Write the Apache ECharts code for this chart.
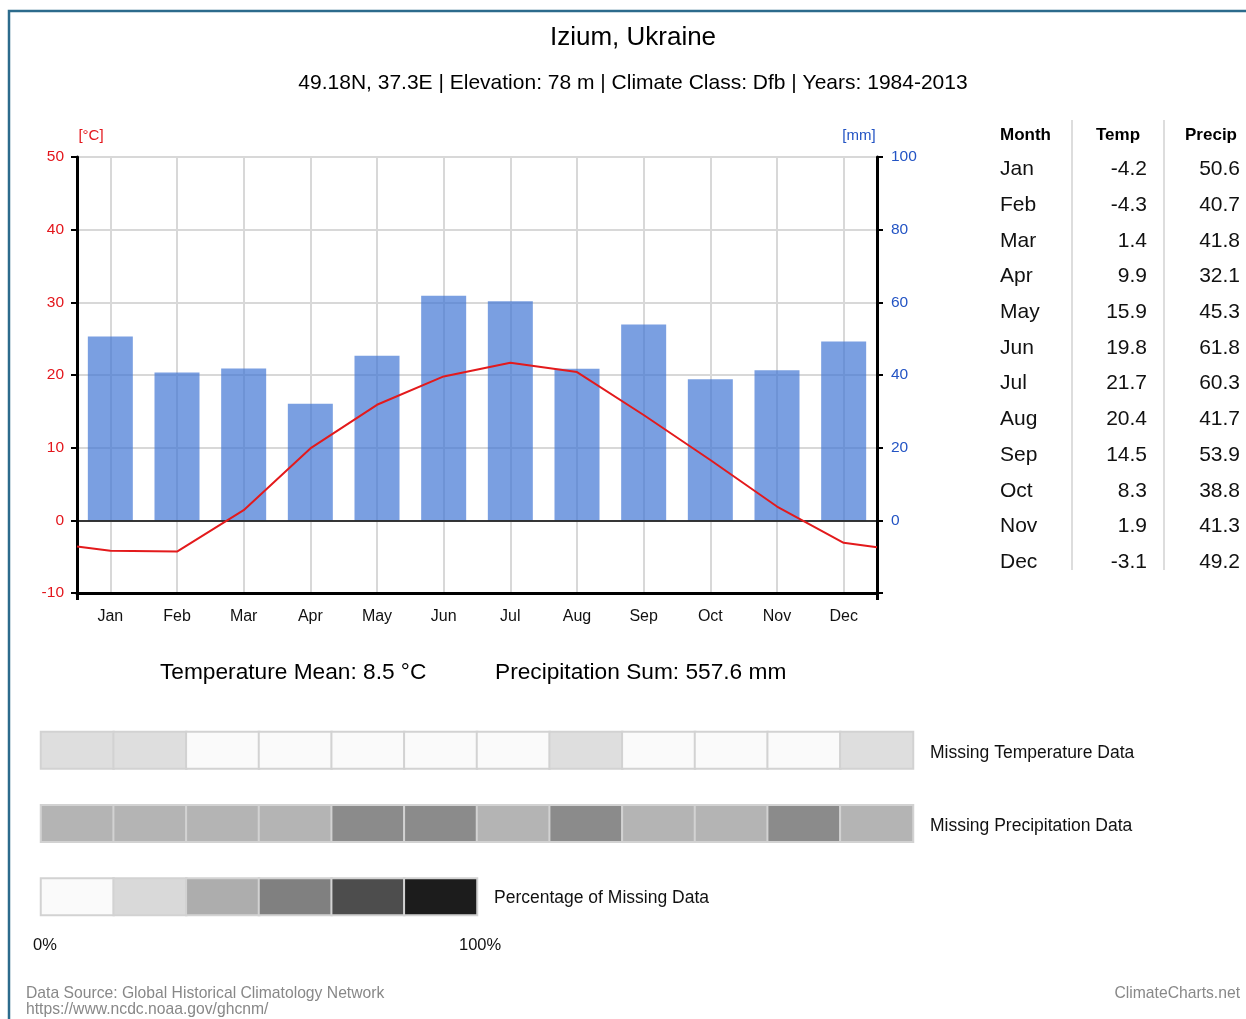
<!DOCTYPE html>
<html>
<head>
<meta charset="utf-8">
<script src="https://cdn.jsdelivr.net/npm/echarts@6/dist/echarts.min.js"></script>
<style>
  html, body { margin: 0; padding: 0; background: #fff; }
  #chart { width: 1246px; height: 1019px; }
</style>
</head>
<body>
<div id="chart"></div>
<script>
// climate data, Izium 1984-2013
const months = ['Jan', 'Feb', 'Mar', 'Apr', 'May', 'Jun', 'Jul', 'Aug', 'Sep', 'Oct', 'Nov', 'Dec']
const temp = [-4.2, -4.3, 1.4, 9.9, 15.9, 19.8, 21.7, 20.4, 14.5, 8.3, 1.9, -3.1]
const precip = [50.6, 40.7, 41.8, 32.1, 45.3, 61.8, 60.3, 41.7, 53.9, 38.8, 41.3, 49.2]
// where the line meets the left / right plot edge
const tempEdges = [-3.6, -3.7]
// missing data in percent (estimated from the grey shades)
const missingTemp = [17, 17, 0, 0, 0, 0, 0, 17, 0, 0, 0, 17]
const missingPrecip = [37, 37, 37, 37, 55, 55, 37, 55, 37, 37, 55, 37]
const missingScale = [0, 20, 40, 60, 80, 100]
const tempTicks = { min: -10, max: 50, step: 10 }
const precipTicks = { min: -20, max: 100, step: 20 }

const FONT = '"Liberation Sans", Arial, sans-serif'
const RED = '#e3161c'
const BLUE = '#2354c4'

let chart = echarts.init(document.getElementById('chart'))

// line points: edges + month centres on a hidden 0..12 value axis
let linePoints = [[0, tempEdges[0]]]
temp.forEach((t, i) => linePoints.push([i + 0.5, t]))
linePoints.push([12, tempEdges[1]])

// heatmap rows: 0 = temperature, 2 = precipitation, 4 = scale
let heat = []
missingTemp.forEach((v, i) => heat.push([i, 0, v]))
missingPrecip.forEach((v, i) => heat.push([i, 2, v]))
missingScale.forEach((v, i) => heat.push([i, 4, v]))

// table on the right
let graphics = []
const rowTop = 169.5
const rowStep = 35.7
graphics.push(
  { type: 'text', x: 1000, y: 135, style: { text: 'Month', font: 'bold 17px ' + FONT, fill: '#000', align: 'left', verticalAlign: 'middle' } },
  { type: 'text', x: 1118, y: 135, style: { text: 'Temp', font: 'bold 17px ' + FONT, fill: '#000', align: 'center', verticalAlign: 'middle' } },
  { type: 'text', x: 1211, y: 135, style: { text: 'Precip', font: 'bold 17px ' + FONT, fill: '#000', align: 'center', verticalAlign: 'middle' } },
  { type: 'line', shape: { x1: 1072, y1: 120, x2: 1072, y2: 570 }, style: { stroke: '#ddd', lineWidth: 2 } },
  { type: 'line', shape: { x1: 1164, y1: 120, x2: 1164, y2: 570 }, style: { stroke: '#ddd', lineWidth: 2 } }
)
months.forEach((m, i) => {
  let y = rowTop + i * rowStep
  graphics.push(
    { type: 'text', x: 1000, y: y, style: { text: m, font: '21px ' + FONT, fill: '#111', align: 'left', verticalAlign: 'middle' } },
    { type: 'text', x: 1147, y: y, style: { text: temp[i].toFixed(1), font: '21px ' + FONT, fill: '#111', align: 'right', verticalAlign: 'middle' } },
    { type: 'text', x: 1240, y: y, style: { text: precip[i].toFixed(1), font: '21px ' + FONT, fill: '#111', align: 'right', verticalAlign: 'middle' } }
  )
})

graphics.push(
  // frame
  { type: 'rect', shape: { x: 9, y: 11, width: 1300, height: 1100 }, style: { fill: 'none', stroke: '#2c6b8c', lineWidth: 2.5 }, z: 100 },
  // titles
  { type: 'text', x: 633, y: 38, style: { text: 'Izium, Ukraine', font: '26px ' + FONT, fill: '#000', align: 'center', verticalAlign: 'middle' } },
  { type: 'text', x: 633, y: 83, style: { text: '49.18N, 37.3E | Elevation: 78 m | Climate Class: Dfb | Years: 1984-2013', font: '21px ' + FONT, fill: '#000', align: 'center', verticalAlign: 'middle' } },
  // axis units
  { type: 'text', x: 91, y: 136, style: { text: '[°C]', font: '15px ' + FONT, fill: RED, align: 'center', verticalAlign: 'middle' } },
  { type: 'text', x: 859, y: 136, style: { text: '[mm]', font: '15px ' + FONT, fill: BLUE, align: 'center', verticalAlign: 'middle' } },
  // summary
  { type: 'text', x: 160, y: 673, style: { text: 'Temperature Mean: 8.5 °C', font: '22.7px ' + FONT, fill: '#000', verticalAlign: 'middle' } },
  { type: 'text', x: 495, y: 673, style: { text: 'Precipitation Sum: 557.6 mm', font: '22.7px ' + FONT, fill: '#000', verticalAlign: 'middle' } },
  // missing data labels
  { type: 'text', x: 930, y: 753, style: { text: 'Missing Temperature Data', font: '17.5px ' + FONT, fill: '#111', verticalAlign: 'middle' } },
  { type: 'text', x: 930, y: 826, style: { text: 'Missing Precipitation Data', font: '17.5px ' + FONT, fill: '#111', verticalAlign: 'middle' } },
  { type: 'text', x: 494, y: 898, style: { text: 'Percentage of Missing Data', font: '17.5px ' + FONT, fill: '#111', verticalAlign: 'middle' } },
  { type: 'text', x: 33, y: 945, style: { text: '0%', font: '16.5px ' + FONT, fill: '#111', verticalAlign: 'middle' } },
  { type: 'text', x: 459, y: 945, style: { text: '100%', font: '16.5px ' + FONT, fill: '#111', verticalAlign: 'middle' } },
  // footer
  { type: 'text', x: 26, y: 994, style: { text: 'Data Source: Global Historical Climatology Network', font: '15.7px ' + FONT, fill: '#888', verticalAlign: 'middle' } },
  { type: 'text', x: 26, y: 1010, style: { text: 'https://www.ncdc.noaa.gov/ghcnm/', font: '15.7px ' + FONT, fill: '#888', verticalAlign: 'middle' } },
  { type: 'text', x: 1240, y: 994, style: { text: 'ClimateCharts.net', font: '15.7px ' + FONT, fill: '#888', align: 'right', verticalAlign: 'middle' } }
)

chart.setOption({
  animation: false,
  textStyle: { fontFamily: FONT },
  grid: [
    { left: 77, right: 369, top: 157, bottom: 426 },
    { left: 41, right: 333, top: 732, bottom: 104 }
  ],
  xAxis: [
    {
      type: 'category',
      gridIndex: 0,
      data: months,
      position: 'bottom',
      axisLine: { onZero: false, lineStyle: { color: '#000', width: 3 } },
      axisTick: { alignWithLabel: true, length: 6, lineStyle: { color: '#000', width: 2 } },
      axisLabel: { color: '#111', fontSize: 16, margin: 16 },
      splitLine: { show: true, alignWithLabel: true, lineStyle: { color: '#d8d8d8', width: 2 } }
    },
    {
      // hidden value axis for the temperature line, and the corner ticks
      type: 'value',
      gridIndex: 0,
      min: 0,
      max: 12,
      interval: 12,
      position: 'bottom',
      axisLine: { show: false, onZero: false },
      axisTick: { show: true, length: 7, lineStyle: { color: '#000', width: 3 } },
      axisLabel: { show: false },
      splitLine: { show: false }
    },
    {
      type: 'category',
      gridIndex: 1,
      data: months,
      show: false
    }
  ],
  yAxis: [
    {
      type: 'value',
      gridIndex: 0,
      position: 'left',
      min: tempTicks.min,
      max: tempTicks.max,
      interval: tempTicks.step,
      axisLine: { show: true, lineStyle: { color: '#000', width: 3 } },
      axisTick: { show: true, length: 6, lineStyle: { color: '#000', width: 2 } },
      axisLabel: { color: RED, fontSize: 15.5, margin: 13 },
      splitLine: { show: true, lineStyle: { color: '#d8d8d8', width: 2 } }
    },
    {
      type: 'value',
      gridIndex: 0,
      position: 'right',
      min: precipTicks.min,
      max: precipTicks.max,
      interval: precipTicks.step,
      axisLine: { show: true, lineStyle: { color: '#000', width: 3 } },
      axisTick: { show: true, length: 6, lineStyle: { color: '#000', width: 2 } },
      axisLabel: {
        color: BLUE,
        fontSize: 15.5,
        margin: 14,
        formatter: v => (v < 0 ? '' : v)
      },
      splitLine: { show: false }
    },
    {
      type: 'category',
      gridIndex: 1,
      data: ['temp', '', 'precip', '', 'scale'],
      inverse: true,
      show: false
    }
  ],
  visualMap: {
    show: false,
    seriesIndex: 2,
    min: 0,
    max: 100,
    inRange: { color: ['#fafafa', '#d9d9d9', '#adadad', '#808080', '#4d4d4d', '#1c1c1c'] }
  },
  series: [
    {
      name: 'Precip',
      type: 'bar',
      xAxisIndex: 0,
      yAxisIndex: 1,
      data: precip,
      barWidth: 45,
      itemStyle: { color: 'rgba(65,118,212,0.7)' },
      z: 3,
      markLine: {
        silent: true,
        symbol: 'none',
        label: { show: false },
        lineStyle: { color: '#000', width: 1.5, type: 'solid' },
        data: [{ yAxis: 0 }]
      }
    },
    {
      name: 'Temp',
      type: 'line',
      xAxisIndex: 1,
      yAxisIndex: 0,
      data: linePoints,
      showSymbol: false,
      lineStyle: { color: '#e31a1c', width: 2 },
      z: 5
    },
    {
      name: 'Missing',
      type: 'heatmap',
      xAxisIndex: 2,
      yAxisIndex: 2,
      data: heat,
      itemStyle: { borderColor: '#d2d2d2', borderWidth: 2 }
    }
  ],
  graphic: graphics
})
</script>
</body>
</html>
